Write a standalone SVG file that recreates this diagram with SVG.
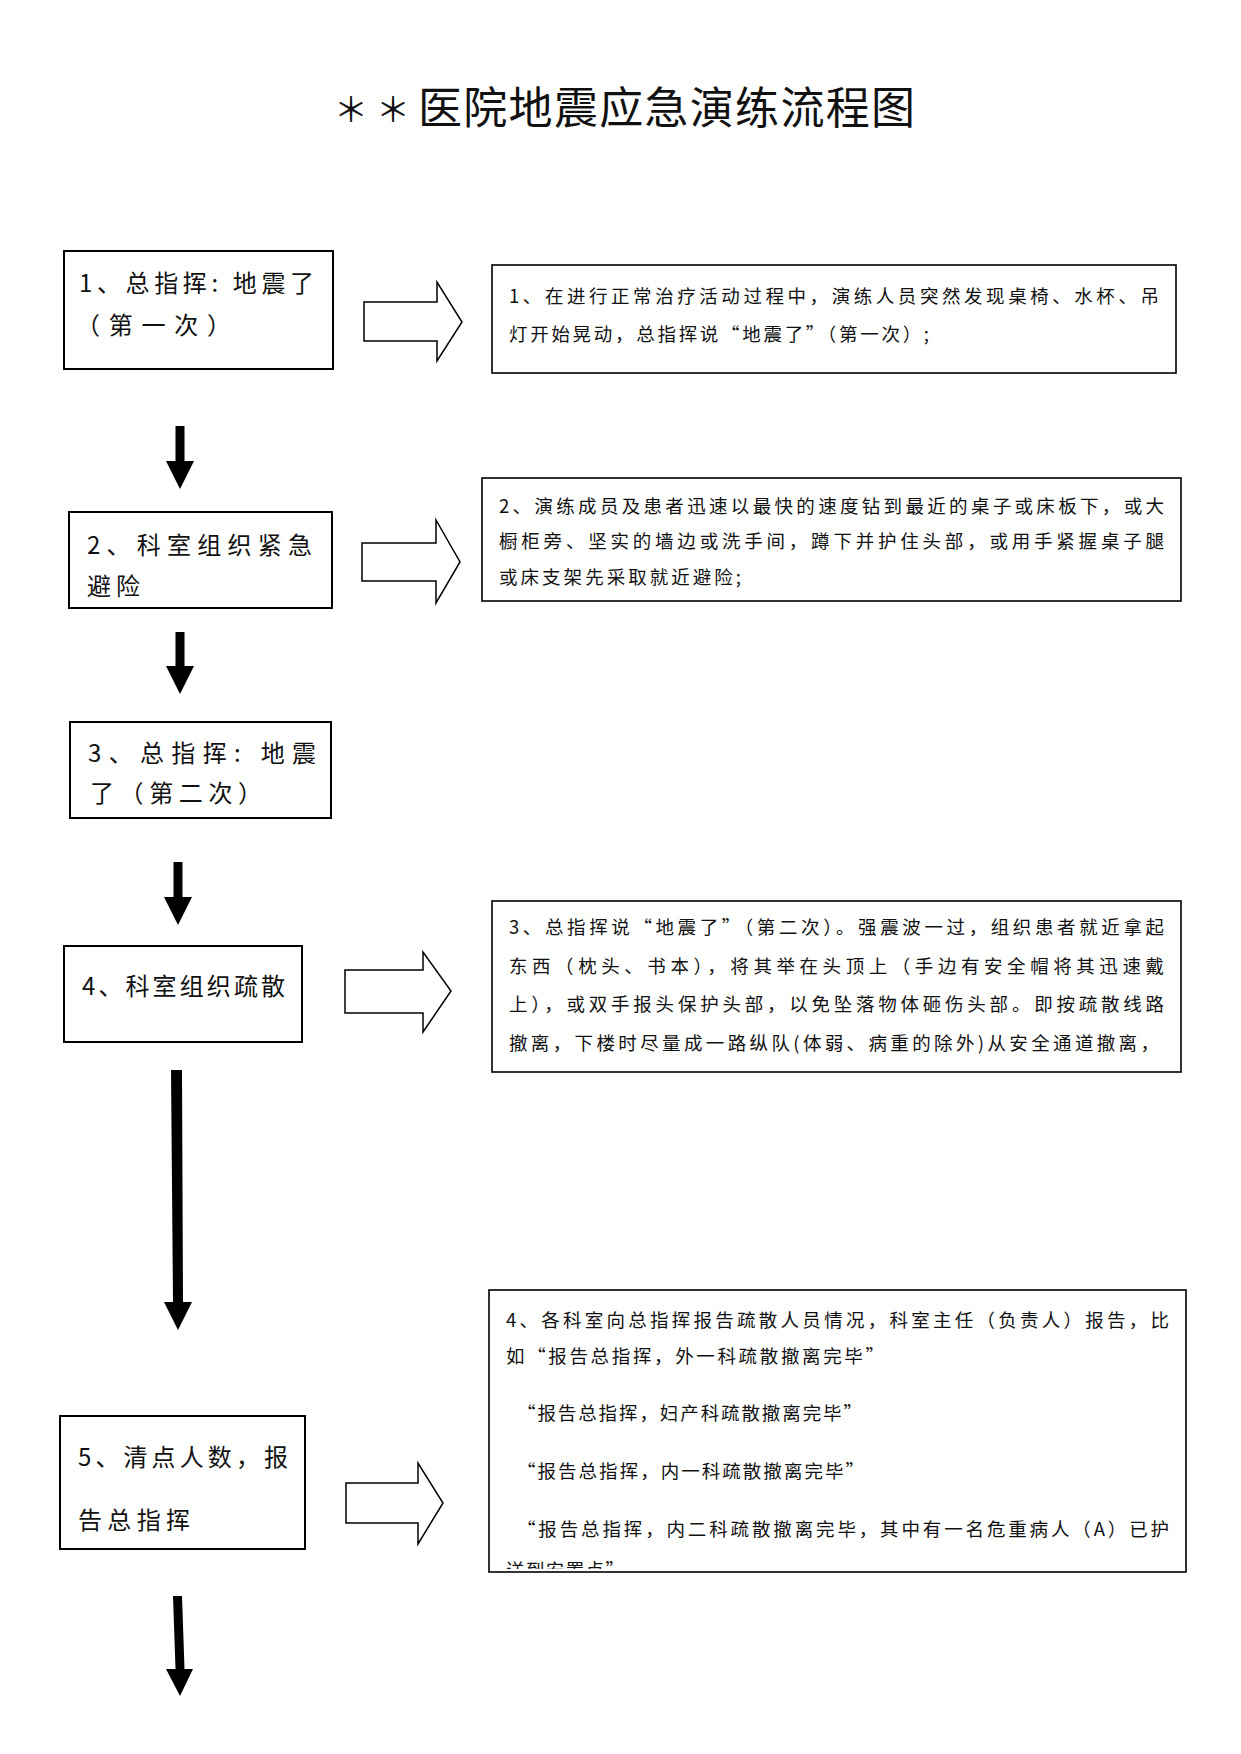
<svg xmlns="http://www.w3.org/2000/svg" width="1241" height="1754" viewBox="0 0 1241 1754">
<style>
.bg{fill:#fff}
.box{fill:#fff;stroke:#000;stroke-width:2}
.dbox{fill:#fff;stroke:#000;stroke-width:1.6}
.hol{fill:#fff;stroke:#000;stroke-width:1.5;stroke-linejoin:miter}
.blk{fill:#000;stroke:none}
.t{font-family:"Noto Sans CJK SC","Liberation Serif",serif;fill:#111}
.n{font-size:24px}
.d{font-size:18.5px}
.title{font-size:44px}
.ast{font-size:34px}
</style>
<defs>
<clipPath id="clip4"><rect x="490" y="1291" width="695" height="278"/></clipPath>
</defs>
<rect class="bg" x="0" y="0" width="1241" height="1754"/>
<g id="title">
<text class="t ast" x="334" y="122">＊</text>
<text class="t ast" x="376" y="122">＊</text>
<text class="t title" x="418" y="124" textLength="497" lengthAdjust="spacing">医院地震应急演练流程图</text>
</g>

<g id="node1">
<rect class="box" x="64" y="251" width="269" height="118"/>
<text class="t n" x="79" y="292" textLength="235" lengthAdjust="spacing">1、总指挥: 地震了</text>
<text class="t n" x="76" y="334" textLength="155" lengthAdjust="spacing">（第一次）</text>
</g>
<g id="desc1">
<rect class="dbox" x="492" y="265" width="684" height="108"/>
<text class="t d" x="509" y="303" textLength="650" lengthAdjust="spacing">1、在进行正常治疗活动过程中，演练人员突然发现桌椅、水杯、吊</text>
<text class="t d" x="509" y="341" textLength="420" lengthAdjust="spacing">灯开始晃动，总指挥说“地震了”（第一次）;</text>
</g>

<g id="node2">
<rect class="box" x="69" y="512" width="263" height="96"/>
<text class="t n" x="87" y="554" textLength="225" lengthAdjust="spacing">2、科室组织紧急</text>
<text class="t n" x="87" y="595" textLength="53" lengthAdjust="spacing">避险</text>
</g>
<g id="desc2">
<rect class="dbox" x="482" y="478" width="699" height="123"/>
<text class="t d" x="499" y="513" textLength="665" lengthAdjust="spacing">2、演练成员及患者迅速以最快的速度钻到最近的桌子或床板下，或大</text>
<text class="t d" x="499" y="548" textLength="665" lengthAdjust="spacing">橱柜旁、坚实的墙边或洗手间，蹲下并护住头部，或用手紧握桌子腿</text>
<text class="t d" x="499" y="584" textLength="242" lengthAdjust="spacing">或床支架先采取就近避险;</text>
</g>

<g id="node3">
<rect class="box" x="70" y="722" width="261" height="96"/>
<text class="t n" x="88" y="762" textLength="228" lengthAdjust="spacing">3、总指挥: 地震</text>
<text class="t n" x="90" y="802" textLength="172" lengthAdjust="spacing">了（第二次）</text>
</g>

<g id="node4">
<rect class="box" x="64" y="946" width="238" height="96"/>
<text class="t n" x="82" y="995" textLength="203" lengthAdjust="spacing">4、科室组织疏散</text>
</g>
<g id="desc3">
<rect class="dbox" x="492" y="901" width="689" height="171"/>
<text class="t d" x="509" y="934" textLength="655" lengthAdjust="spacing">3、总指挥说“地震了”（第二次）。强震波一过，组织患者就近拿起</text>
<text class="t d" x="509" y="973" textLength="655" lengthAdjust="spacing">东西（枕头、书本），将其举在头顶上（手边有安全帽将其迅速戴</text>
<text class="t d" x="509" y="1011" textLength="655" lengthAdjust="spacing">上），或双手报头保护头部，以免坠落物体砸伤头部。即按疏散线路</text>
<text class="t d" x="509" y="1050" textLength="650" lengthAdjust="spacing">撤离，下楼时尽量成一路纵队(体弱、病重的除外)从安全通道撤离，</text>
</g>

<g id="node5">
<rect class="box" x="60" y="1416" width="245" height="133"/>
<text class="t n" x="78" y="1466" textLength="210" lengthAdjust="spacing">5、清点人数，报</text>
<text class="t n" x="78" y="1529" textLength="112" lengthAdjust="spacing">告总指挥</text>
</g>
<g id="desc4">
<rect class="dbox" x="489" y="1290" width="697" height="282"/>
<g clip-path="url(#clip4)">
<text class="t d" x="506" y="1327" textLength="663" lengthAdjust="spacing">4、各科室向总指挥报告疏散人员情况，科室主任（负责人）报告，比</text>
<text class="t d" x="506" y="1363" textLength="378" lengthAdjust="spacing">如“报告总指挥，外一科疏散撤离完毕”</text>
<text class="t d" x="517" y="1420" textLength="345" lengthAdjust="spacing">“报告总指挥，妇产科疏散撤离完毕”</text>
<text class="t d" x="517" y="1478" textLength="347" lengthAdjust="spacing">“报告总指挥，内一科疏散撤离完毕”</text>
<text class="t d" x="517" y="1536" textLength="652" lengthAdjust="spacing">“报告总指挥，内二科疏散撤离完毕，其中有一名危重病人（A）已护</text>
<text class="t d" x="506" y="1577" textLength="118" lengthAdjust="spacing">送到安置点”</text>
</g>
</g>

<g id="connectors">
<polygon class="hol" points="364,302 437,302 437,282 462,322 437,361 437,341 364,341"/>
<polygon class="hol" points="362,543 436,543 436,520 460,562 436,603 436,581 362,581"/>
<polygon class="hol" points="345,970 423,970 423,952 451,991 423,1032 423,1013 345,1013"/>
<polygon class="hol" points="346,1483 418,1483 418,1463 443,1503 418,1544 418,1523 346,1523"/>
<polygon class="blk" points="175.5,426 184.5,426 184.5,461 194,461 180,489 166,461 175.5,461"/>
<polygon class="blk" points="175.5,632 184.5,632 184.5,666 194,666 180,694 166,666 175.5,666"/>
<polygon class="blk" points="173.5,862 182.5,862 182.5,897 192,897 178,925 164,897 173.5,897"/>
<polygon class="blk" points="171,1070 182,1070 183,1302 192,1302 178,1330 164,1302 173,1302"/>
<polygon class="blk" points="173,1596 182,1596 184.5,1669 193,1669 180,1696 166,1669 175.5,1669"/>
</g>
</svg>
